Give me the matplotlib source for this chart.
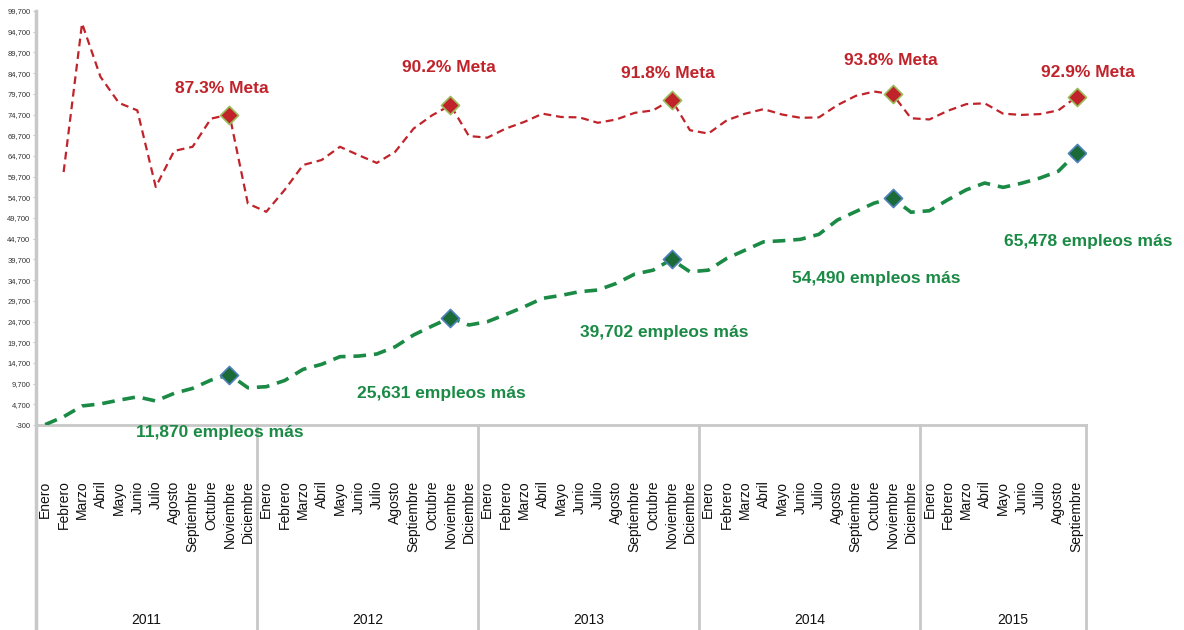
import matplotlib
matplotlib.use("Agg")
import matplotlib.pyplot as plt
import numpy as np

plt.rcParams['font.family'] = ['Liberation Sans', 'DejaVu Sans']

# data
years = ["2011", "2012", "2013", "2014", "2015"]
months = ["Enero", "Febrero", "Marzo", "Abril", "Mayo", "Junio", "Julio",
          "Agosto", "Septiembre", "Octubre", "Noviembre", "Diciembre"]
month_labels = months * 4 + months[:9]

meta = [None, 60800, 96700, 83800, 77500, 75700, 57200, 65900, 66900, 73700, 74700, 53200,
        51200, 56500, 62500, 63700, 66900, 64900, 63000, 65700, 71300, 74500, 76950, 69500,
        69100, 71300, 72900, 74900, 74100, 74000, 72700, 73500, 75100, 75700, 78300, 70900,
        70100, 73300, 74900, 76000, 74700, 73900, 74000, 76950, 79200, 80250, 79600, 73800,
        73500, 75600, 77200, 77400, 74900, 74600, 74800, 75700, 79000]

empleos = [-200, 1700, 4300, 4800, 5700, 6500, 5500, 7350, 8550, 10550, 11870, 8700,
           8950, 10450, 13150, 14350, 16200, 16350, 16850, 18600, 21450, 23600, 25631, 23850,
           24650, 26400, 28250, 30300, 31000, 31900, 32300, 33900, 36150, 37100, 39702, 36700,
           37100, 39950, 41950, 43950, 44200, 44550, 45750, 49200, 51250, 53300, 54490, 51100,
           51450, 54100, 56500, 58150, 57100, 58100, 59350, 61000, 65478]

hi_idx = [10, 22, 34, 46, 56]
meta_txt = ["87.3% Meta", "90.2% Meta", "91.8% Meta", "93.8% Meta", "92.9% Meta"]
emp_txt = ["11,870 empleos más", "25,631 empleos más", "39,702 empleos más",
           "54,490 empleos más", "65,478 empleos más"]

RED = "#C1232B"
GREEN = "#1A8A45"
GREY = "#C8C8C8"

fig = plt.figure(figsize=(11.84, 6.3), dpi=100)
ax = fig.add_axes([36 / 1184, 205 / 630, 1050 / 1184, 414 / 630])

x = np.arange(len(month_labels))
mx = np.array(x[1:])
ax.plot(mx, meta[1:], color=RED, lw=1.6, ls=(0, (3.5, 2.2)), zorder=3)
ax.plot(x, empleos, color=GREEN, lw=2.6, ls=(0, (3.5, 2.2)), zorder=3)

ax.scatter([x[i] for i in hi_idx], [meta[i] for i in hi_idx], marker="D", s=85,
           color=RED, edgecolor="#9BBB59", linewidth=1.2, zorder=5)
ax.scatter([x[i] for i in hi_idx], [empleos[i] for i in hi_idx], marker="D", s=85,
           color="#1B6B38", edgecolor="#4F81BD", linewidth=1.2, zorder=5)

# annotations
meta_pos = [(9.6, 81000), (21.9, 86100), (33.8, 84700), (45.9, 87800), (56.6, 84900)]
emp_pos = [(9.5, -2000), (21.5, 7200), (33.6, 22150), (45.1, 35200), (56.6, 44100)]
for (px, py), t in zip(meta_pos, meta_txt):
    ax.text(px, py, t, color=RED, fontsize=12.5, fontweight="bold",
            ha="center", va="center", clip_on=False, zorder=6)
for (px, py), t in zip(emp_pos, emp_txt):
    ax.text(px, py, t, color=GREEN, fontsize=12.5, fontweight="bold",
            ha="center", va="center", clip_on=False, zorder=6)

ax.set_xlim(-0.5, len(month_labels) - 0.5)
ax.set_ylim(-300, 99700)
yt = np.arange(-300, 99701, 5000)
ax.set_yticks(yt)
ax.set_yticklabels([f"{v:,}" for v in yt], fontsize=5.5, color="#333333")
ax.tick_params(axis="y", length=2, color=GREY, pad=2)

ax.set_xticks(x)
ax.set_xticklabels(month_labels, rotation=90, fontsize=10, color="#111111")
ax.tick_params(axis="x", length=0, pad=40)

for s in ["top", "right"]:
    ax.spines[s].set_visible(False)
ax.spines["bottom"].set_color(GREY)
ax.spines["bottom"].set_linewidth(2)
ax.spines["left"].set_visible(False)

# grouping lines below the axis
tr = ax.get_xaxis_transform()
ybot = -205 / 414
for b in [-0.5, 11.5, 23.5, 35.5, 47.5, 56.5]:
    top = 1.0 if b == -0.5 else 0.0
    ax.plot([b, b], [ybot, top], transform=tr, color=GREY,
            lw=2.5 if b == -0.5 else 2, clip_on=False, zorder=1)

centers = [5.5, 17.5, 29.5, 41.5, 52.5]
for c, yr in zip(centers, years):
    ax.text(c, -195 / 414, yr, transform=tr, ha="center", va="center",
            fontsize=10, color="#111111")

fig.savefig("out.png", dpi=100)
